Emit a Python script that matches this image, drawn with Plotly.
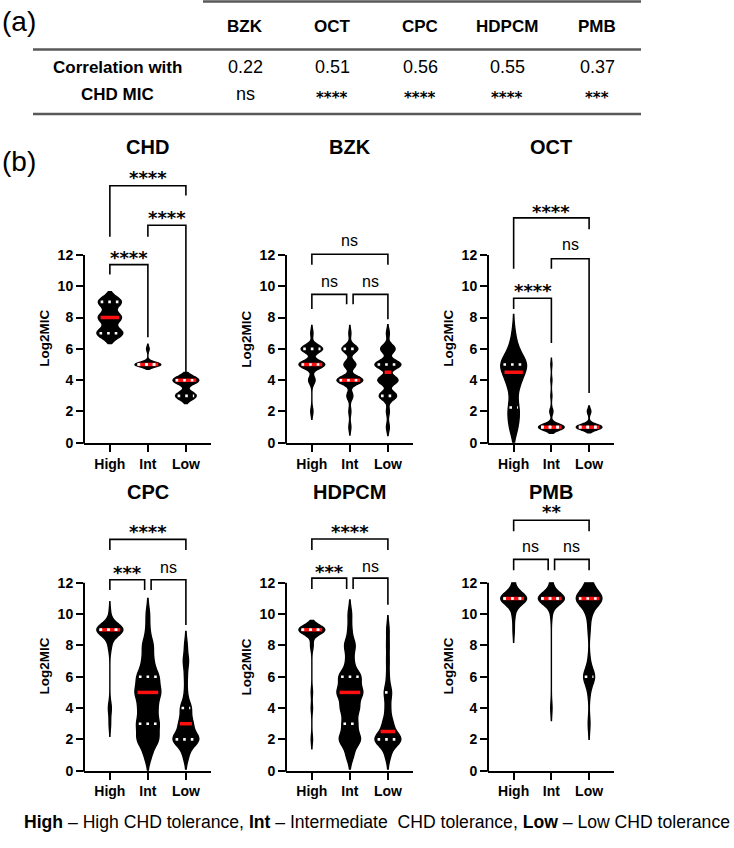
import numpy as np
import plotly.graph_objects as go

# ---------------- data ----------------
table_drugs = ["BZK", "OCT", "CPC", "HDPCM", "PMB"]
table_corr = [0.22, 0.51, 0.56, 0.55, 0.37]
table_sig = ["ns", "****", "****", "****", "***"]

groups = ["High", "Int", "Low"]
panel_names = ["CHD", "BZK", "OCT", "CPC", "HDPCM", "PMB"]
log2mic_levels = list(range(13))          # log2 MIC values 0..12

# number of isolates at each log2MIC level (index = level 0..12)
chd_high   = [0, 0, 0, 0, 0, 0, 0, 9, 8, 8, 0, 0, 0]
chd_int    = [0, 0, 0, 0, 0, 20, 2, 0, 0, 0, 0, 0, 0]
chd_low    = [0, 0, 0, 8, 10, 0, 0, 0, 0, 0, 0, 0, 0]
bzk_high   = [0, 0, 1, 0, 3, 12, 10, 1, 0, 0, 0, 0, 0]
bzk_int    = [0, 1, 1, 3, 13, 6, 8, 1, 0, 0, 0, 0, 0]
bzk_low    = [0, 1, 1, 6, 7, 9, 5, 1, 0, 0, 0, 0, 0]
oct_high   = [0, 3, 4, 2, 5, 10, 3, 1, 0, 0, 0, 0, 0]
oct_int    = [0, 25, 3, 1, 1, 1, 0, 0, 0, 0, 0, 0, 0]
oct_low    = [0, 15, 2, 0, 0, 0, 0, 0, 0, 0, 0, 0, 0]
cpc_high   = [0, 0, 0, 1, 2, 0, 0, 0, 2, 18, 1, 0, 0]
cpc_int    = [0, 2, 6, 6, 5, 7, 6, 3, 3, 1, 1, 0, 0]
cpc_low    = [0, 2, 10, 5, 4, 1, 1, 2, 1, 0, 0, 0, 0]
hdpcm_high = [0, 0, 1, 0, 1, 1, 0, 0, 2, 20, 0, 0, 0]
hdpcm_int  = [0, 2, 6, 4, 5, 7, 6, 2, 3, 1, 1, 0, 0]
hdpcm_low  = [0, 2, 11, 4, 2, 3, 1, 1, 1, 1, 0, 0, 0]
pmb_high   = [0, 0, 0, 0, 0, 0, 0, 0, 0, 1, 2, 20, 2]
pmb_int    = [0, 0, 0, 0, 1, 0, 0, 0, 0, 0, 1, 20, 2]
pmb_low    = [0, 0, 0, 1, 0, 1, 6, 1, 0, 1, 2, 14, 3]

# significance of pairwise comparisons per panel
sig_high_int = ["****", "ns", "****", "***", "***", "ns"]
sig_int_low  = ["****", "ns", "ns", "ns", "ns", "ns"]
sig_high_low = ["****", "ns", "****", "****", "****", "**"]

footnote = ("<b>High</b> – High CHD tolerance, <b>Int</b> – Intermediate  CHD tolerance, "
            "<b>Low</b> – Low CHD tolerance")

# ---------------- styling / layout ----------------
W, H = 734, 848
FONT = "Arial, Liberation Sans, Helvetica, sans-serif"
STAR_FONT = "DejaVu Sans, Arial, sans-serif"
YMAX = 17.5
XR = [-0.68, 2.66]
VW = 0.68
col_px = [(84, 211), (286, 413), (488, 614)]
row_zero_px = [447, 778]
PXU = 15.8

bandwidths = [[0.33, 0.15, 0.25], [0.25, 0.25, 0.27], [0.6, 0.2, 0.18],
              [0.4, 0.5, 0.45], [0.3, 0.45, 0.45], [0.4, 0.4, 0.5]]

# bracket geometry per panel: (bar y, leg1 bottom, leg2 bottom, text y, gap at Int)
bracket_hi = [(11.38, 10.75, 6.75, 12.18, False), (9.48, 8.54, 8.85, 10.33, True),
              (9.23, 8.54, 6.37, 10.07, False), (12.2, 11.55, 11.55, 13.0, True),
              (12.3, 11.6, 11.6, 13.05, True), (13.5, 12.8, 12.8, 14.35, True)]
bracket_il = [(13.9, 13.17, 4.12, 14.7, False), (9.48, 8.85, 7.9, 10.33, True),
              (11.76, 11.12, 3.18, 12.64, False), (12.2, 11.55, 9.3, 13.0, True),
              (12.3, 11.6, 10.6, 13.05, True), (13.5, 12.8, 12.8, 14.35, True)]
bracket_hl = [(16.42, 13.17, 15.8, 17.3, False), (12.05, 11.38, 11.38, 12.9, False),
              (14.37, 11.12, 13.65, 15.1, False), (14.78, 14.1, 14.1, 15.6, False),
              (14.8, 14.1, 14.1, 15.6, False), (16.0, 15.3, 15.3, 16.85, False)]

counts_all = [[chd_high, chd_int, chd_low], [bzk_high, bzk_int, bzk_low],
              [oct_high, oct_int, oct_low], [cpc_high, cpc_int, cpc_low],
              [hdpcm_high, hdpcm_int, hdpcm_low], [pmb_high, pmb_int, pmb_low]]


def px(x):
    return x / W


def py(y):
    return 1 - y / H


def kde(samples, bw, yy):
    z = (np.asarray(yy)[:, None] - samples[None, :]) / bw
    return np.exp(-0.5 * z ** 2).sum(axis=1)


fig = go.Figure()
shapes = []
annotations = []
layout_axes = {}

for p in range(6):
    r, c = divmod(p, 3)
    n = p + 1
    xn = "x" if n == 1 else f"x{n}"
    yn = "y" if n == 1 else f"y{n}"
    x0p, x1p = col_px[c]
    y0p = row_zero_px[r]
    ytop = y0p - YMAX * PXU
    xdom = [px(x0p), px(x1p)]
    ydom = [py(y0p), py(ytop)]

    red_x, red_y, wht_x, wht_y = [], [], [], []
    for g in range(3):
        vals = np.repeat(log2mic_levels, counts_all[p][g]).astype(float)
        bw = bandwidths[p][g]
        lo = max(0.0, vals.min() - 2 * bw)
        hi = min(12.0, vals.max() + 2 * bw)
        fig.add_trace(go.Violin(
            x=np.full(len(vals), g), y=vals, xaxis=xn, yaxis=yn,
            width=VW, bandwidth=bw, spanmode="manual", span=[lo, hi],
            scalemode="width", fillcolor="black",
            line=dict(color="black", width=1.4), points=False,
            box_visible=False, meanline_visible=False, showlegend=False,
            hoverinfo="skip"))
        q1, med, q3 = np.percentile(vals, [25, 50, 75], method="weibull")
        grid = np.linspace(lo, hi, 600)
        dmax = kde(vals, bw, grid).max()
        for q, is_med in ((med, True), (q1, False), (q3, False)):
            hw = VW / 2 * kde(vals, bw, [q])[0] / dmax * 0.8
            hw = max(hw, 0.05)
            if is_med:
                red_x += [g - hw, g + hw, None]
                red_y += [q, q, None]
            else:
                wht_x += [g - hw, g + hw, None]
                wht_y += [q, q, None]
    fig.add_trace(go.Scatter(x=red_x, y=red_y, xaxis=xn, yaxis=yn, mode="lines",
                             line=dict(color="#ff1010", width=3.5), showlegend=False,
                             hoverinfo="skip"))
    fig.add_trace(go.Scatter(x=wht_x, y=wht_y, xaxis=xn, yaxis=yn, mode="lines",
                             line=dict(color="white", width=2.6, dash="2.6px,5px"),
                             showlegend=False, hoverinfo="skip"))

    xkey = "xaxis" if n == 1 else f"xaxis{n}"
    ykey = "yaxis" if n == 1 else f"yaxis{n}"
    layout_axes[xkey] = dict(
        domain=xdom, range=XR, anchor=yn, tickvals=[0, 1, 2], ticktext=groups,
        ticks="outside", ticklen=7, tickwidth=2, tickcolor="black",
        showline=True, linewidth=2, linecolor="black", showgrid=False, zeroline=False,
        tickfont=dict(family=FONT, size=14, color="black", weight=700), fixedrange=True)
    layout_axes[ykey] = dict(
        domain=ydom, range=[0, YMAX], anchor=xn, tickvals=list(range(0, 13, 2)),
        ticks="outside", ticklen=7, tickwidth=2, tickcolor="black",
        showline=False, showgrid=False, zeroline=False,
        tickfont=dict(family=FONT, size=14, color="black", weight=700), fixedrange=True)

    # y axis line from 0 to 12
    shapes.append(dict(type="line", xref="paper", yref="paper",
                       x0=px(x0p), x1=px(x0p), y0=py(y0p + 1), y1=py(y0p - 12 * PXU),
                       line=dict(color="black", width=2)))
    # y axis title
    annotations.append(dict(text="<b>Log2MIC</b>", xref="paper", yref=yn,
                            x=px(x0p - 39), y=6.65, textangle=-90, showarrow=False,
                            font=dict(family=FONT, size=13.5, color="black"),
                            xanchor="center", yanchor="middle"))
    # panel title
    annotations.append(dict(text=f"<b>{panel_names[p]}</b>", xref=xn, yref="paper",
                            x=1, y=py(148 if r == 0 else 497), showarrow=False,
                            font=dict(family=FONT, size=20, color="black"),
                            xanchor="center", yanchor="middle"))

    # significance brackets
    for (ga, gb, spec, lab) in ((0, 1, bracket_hi[p], sig_high_int[p]),
                                (1, 2, bracket_il[p], sig_int_low[p]),
                                (0, 2, bracket_hl[p], sig_high_low[p])):
        ybar, yl1, yl2, ytxt, gap = spec
        xa = ga + (0.085 if (gap and ga == 1) else 0)
        xb = gb - (0.085 if (gap and gb == 1) else 0)
        shapes.append(dict(type="path", xref=xn, yref=yn,
                           path=f"M {xa},{yl1} L {xa},{ybar} L {xb},{ybar} L {xb},{yl2}",
                           line=dict(color="black", width=1.6)))
        if "*" in lab:
            annotations.append(dict(text=f"<b>{lab}</b>", xref=xn, yref=yn,
                                    x=(xa + xb) / 2, y=ytxt, yshift=-5, showarrow=False,
                                    font=dict(family=STAR_FONT, size=18, color="black"),
                                    xanchor="center", yanchor="middle"))
        else:
            annotations.append(dict(text=lab, xref=xn, yref=yn,
                                    x=(xa + xb) / 2, y=ytxt, showarrow=False,
                                    font=dict(family=FONT, size=16, color="black"),
                                    xanchor="center", yanchor="middle"))

# ---------------- table (a) ----------------
line_col = "#595959"
shapes.append(dict(type="line", xref="paper", yref="paper", x0=px(203), x1=px(641),
                   y0=py(1.5), y1=py(1.5), line=dict(color=line_col, width=2.5)))
shapes.append(dict(type="line", xref="paper", yref="paper", x0=px(33), x1=px(641),
                   y0=py(50), y1=py(50), line=dict(color=line_col, width=2.5)))
shapes.append(dict(type="line", xref="paper", yref="paper", x0=px(33), x1=px(641),
                   y0=py(115), y1=py(115), line=dict(color=line_col, width=2.5)))
col_x = [245, 332, 420, 507, 597]
for i, d in enumerate(table_drugs):
    annotations.append(dict(text=f"<b>{d}</b>", xref="paper", yref="paper",
                            x=px(col_x[i]), y=py(27), showarrow=False,
                            font=dict(family=FONT, size=17, color="black"),
                            xanchor="center", yanchor="middle"))
    annotations.append(dict(text=f"{table_corr[i]:.2f}", xref="paper", yref="paper",
                            x=px(col_x[i]), y=py(68), showarrow=False,
                            font=dict(family=FONT, size=18, color="black"),
                            xanchor="center", yanchor="middle"))
    sig = table_sig[i]
    if "*" in sig:
        annotations.append(dict(text=f"<b>{sig}</b>", xref="paper", yref="paper",
                                x=px(col_x[i]), y=py(95), yshift=-3.5, showarrow=False,
                                font=dict(family=STAR_FONT, size=15, color="black"),
                                xanchor="center", yanchor="middle"))
    else:
        annotations.append(dict(text=sig, xref="paper", yref="paper",
                                x=px(col_x[i]), y=py(95), showarrow=False,
                                font=dict(family=FONT, size=18, color="black"),
                                xanchor="center", yanchor="middle"))
annotations.append(dict(text="<b>Correlation with</b>", xref="paper", yref="paper",
                        x=px(118), y=py(68), showarrow=False,
                        font=dict(family=FONT, size=17, color="black"),
                        xanchor="center", yanchor="middle"))
annotations.append(dict(text="<b>CHD MIC</b>", xref="paper", yref="paper",
                        x=px(118), y=py(95), showarrow=False,
                        font=dict(family=FONT, size=17, color="black"),
                        xanchor="center", yanchor="middle"))
annotations.append(dict(text="(a)", xref="paper", yref="paper", x=0, y=py(22),
                        showarrow=False, font=dict(family=FONT, size=28, color="black"),
                        xanchor="left", yanchor="middle"))
annotations.append(dict(text="(b)", xref="paper", yref="paper", x=0, y=py(163),
                        showarrow=False, font=dict(family=FONT, size=28, color="black"),
                        xanchor="left", yanchor="middle"))
annotations.append(dict(text=footnote, xref="paper", yref="paper", x=px(22), y=py(830),
                        showarrow=False, font=dict(family=FONT, size=17.6, color="black"),
                        xanchor="left", yanchor="middle"))

fig.update_layout(width=W, height=H, margin=dict(l=0, r=0, t=0, b=0),
                  paper_bgcolor="white", plot_bgcolor="white",
                  violinmode="overlay", showlegend=False,
                  shapes=shapes, annotations=annotations, **layout_axes)
fig.write_html("out.html")
